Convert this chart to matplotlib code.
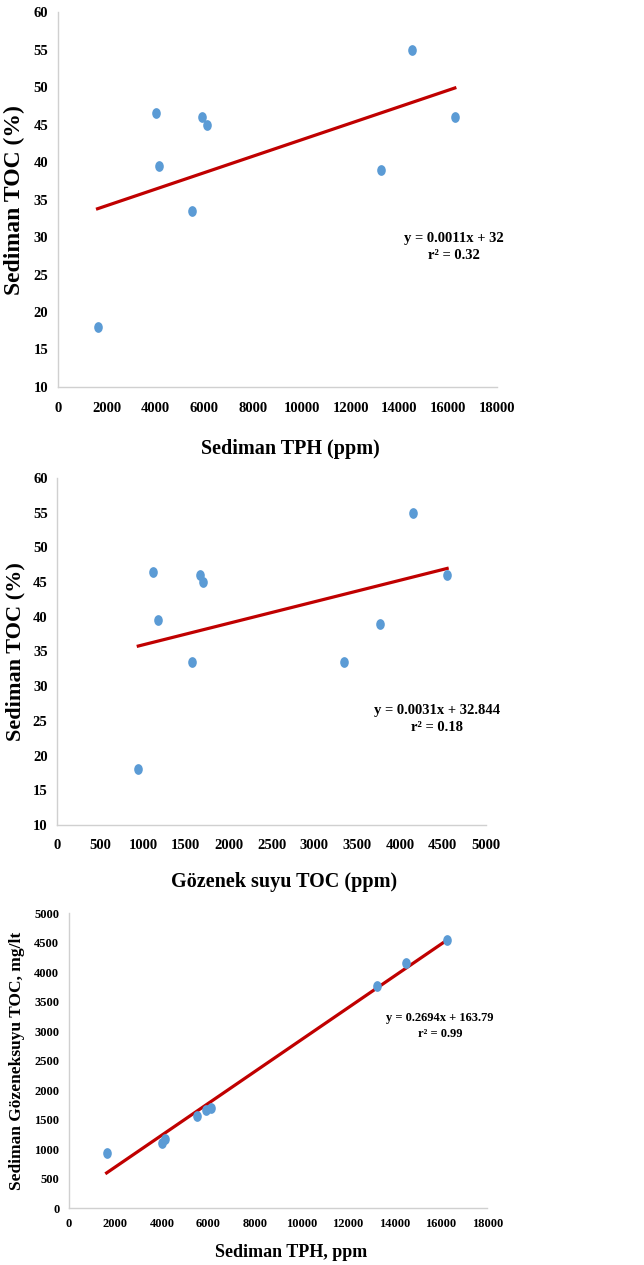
import matplotlib
matplotlib.use("Agg")
import matplotlib.pyplot as plt
import numpy as np
from matplotlib.path import Path
from matplotlib.transforms import Affine2D

# Sample measurements (one entry per station); TPH was not measured at station 7
tph_ppm = [1620, 4000, 4120, 5490, 5900, 6100, np.nan, 13260, 14520, 16270]
sediment_toc_pct = [18.0, 46.5, 39.5, 33.5, 46.0, 45.0, 33.5, 39.0, 55.0, 46.0]
porewater_toc_ppm = [945, 1115, 1170, 1570, 1670, 1700, 3350, 3770, 4150, 4550]

# Linear trend coefficients as reported (slope, intercept, r^2)
fit_tph_toc = (0.0011, 32, 0.32)
fit_pore_toc = (0.0031, 32.844, 0.18)
fit_tph_pore = (0.2694, 163.79, 0.99)

POINT_COLOR = "#5B9BD5"
LINE_COLOR = "#C00000"
SPINE_COLOR = "#D0D0D0"

# slightly upright oval dot
OVAL = Path.unit_circle().transformed(Affine2D().scale(0.8, 1.0))

plt.rcParams["font.family"] = ["Liberation Serif", "DejaVu Serif"]
plt.rcParams["font.weight"] = "bold"


def scatter_with_trend(ax, x, y, fit, xlim, ylim, xticks, yticks,
                       xlabel, ylabel, eq_text, eq_pos, eq_size,
                       tick_size, label_size, xlabel_size, xlabel_y, ylabel_x,
                       xpad):
    x = np.asarray(x, dtype=float)
    y = np.asarray(y, dtype=float)
    ax.scatter(x, y, s=60, marker=OVAL, color=POINT_COLOR, zorder=3,
               linewidths=0)

    slope, intercept, r2 = fit
    xs = np.array([np.nanmin(x), np.nanmax(x)])
    ax.plot(xs, slope * xs + intercept, color=LINE_COLOR, lw=2.3, zorder=2)

    ax.set_xlim(*xlim)
    ax.set_ylim(*ylim)
    ax.set_xticks(xticks)
    ax.set_yticks(yticks)
    ax.tick_params(length=0, labelsize=tick_size)
    ax.tick_params(axis="x", pad=xpad)
    ax.tick_params(axis="y", pad=7)
    for lab in ax.get_xticklabels() + ax.get_yticklabels():
        lab.set_fontweight("bold")

    for side in ("top", "right"):
        ax.spines[side].set_visible(False)
    for side in ("left", "bottom"):
        ax.spines[side].set_color(SPINE_COLOR)
        ax.spines[side].set_linewidth(1.0)

    ax.set_xlabel(xlabel, fontsize=xlabel_size, fontweight="bold")
    ax.xaxis.set_label_coords(0.53, xlabel_y)
    ax.set_ylabel(ylabel, fontsize=label_size, fontweight="bold")
    ax.yaxis.set_label_coords(ylabel_x, 0.5)

    ax.text(eq_pos[0], eq_pos[1], eq_text, ha="center", va="center",
            multialignment="center", fontsize=eq_size, fontweight="bold",
            linespacing=1.4)


fig = plt.figure(figsize=(6.44, 12.65), dpi=100)

ax1 = fig.add_axes([0.0901, 0.6941, 0.6817, 0.2962])
scatter_with_trend(
    ax1, tph_ppm, sediment_toc_pct, fit_tph_toc,
    (0, 18000), (10, 60), np.arange(0, 18001, 2000), np.arange(10, 61, 5),
    "Sediman TPH (ppm)", "Sediman TOC (%)",
    "y = 0.0011x + 32\nr² = 0.32", (16240, 28.7), 10.5,
    10.5, 17, 14.5, -0.14, -0.075, 11,
)

ax2 = fig.add_axes([0.0890, 0.3478, 0.6652, 0.2745])
scatter_with_trend(
    ax2, porewater_toc_ppm, sediment_toc_pct, fit_pore_toc,
    (0, 5000), (10, 60), np.arange(0, 5001, 500), np.arange(10, 61, 5),
    "Gözenek suyu TOC (ppm)", "Sediman TOC (%)",
    "y = 0.0031x + 32.844\nr² = 0.18", (4428, 25.2), 10.5,
    10.5, 16, 14.5, -0.135, -0.075, 10,
)

ax3 = fig.add_axes([0.1071, 0.0448, 0.6495, 0.2332])
scatter_with_trend(
    ax3, tph_ppm, porewater_toc_ppm, fit_tph_pore,
    (0, 18000), (0, 5000), np.arange(0, 18001, 2000), np.arange(0, 5001, 500),
    "Sediman TPH, ppm", "Sediman Gözeneksuyu TOC, mg/lt",
    "y = 0.2694x + 163.79\nr² = 0.99", (15964, 3090), 9,
    9, 12.5, 13, -0.12, -0.105, 7,
)

fig.savefig("out.png", dpi=100)
